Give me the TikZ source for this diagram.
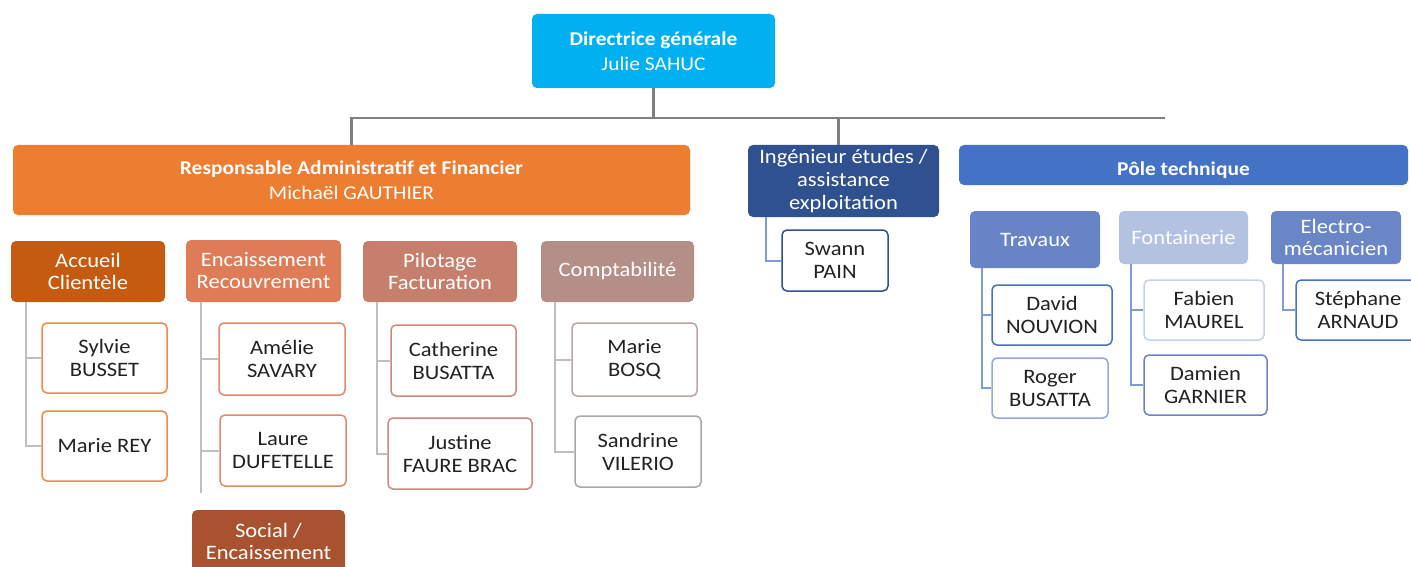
\documentclass[tikz,border=0pt]{standalone}
\usepackage{fontspec}
\setmainfont{Carlito}[FakeStretch=1.1]
\definecolor{cDG}{HTML}{00B0F0}
\definecolor{cRAF}{HTML}{ED7D31}
\definecolor{cACC}{HTML}{C55A11}
\definecolor{cENC}{HTML}{DE7C57}
\definecolor{cPIL}{HTML}{C67F6C}
\definecolor{cCOMP}{HTML}{B48F88}
\definecolor{cSOC}{HTML}{A9522F}
\definecolor{cING}{HTML}{2F5190}
\definecolor{cPOLE}{HTML}{4472C4}
\definecolor{cTRAV}{HTML}{6884C7}
\definecolor{cFONT}{HTML}{B4C2E2}
\definecolor{cELEC}{HTML}{6A86C6}
\definecolor{bACC}{HTML}{EE8A4A}
\definecolor{bENC}{HTML}{DF8A6A}
\definecolor{bPIL}{HTML}{CC8A7A}
\definecolor{bBOSQ}{HTML}{BFA3A0}
\definecolor{bSAND}{HTML}{A8A8A8}
\definecolor{bROG}{HTML}{8FAADC}
\definecolor{bFAB}{HTML}{C5D2EC}
\definecolor{lGray}{HTML}{BFBFBF}
\definecolor{lTop}{HTML}{7F7F7F}
\definecolor{lBlue}{HTML}{7F9BD3}
\definecolor{tDark}{HTML}{222222}
\tikzset{
  headbox/.style={rounded corners=5pt, draw=none, text=white, align=center, inner sep=0pt,
    font=\fontsize{20.5}{22}\selectfont},
  personbox/.style={rounded corners=5pt, fill=white, line width=1.5pt, align=center, text=tDark,
    inner sep=0pt, font=\fontsize{20.5}{23}\selectfont},
  topconn/.style={draw=lTop, line width=2.5pt},
  grayconn/.style={draw=lGray, line width=2pt},
  blueconn/.style={draw=lBlue, line width=2pt},
}
\begin{document}
\begin{tikzpicture}[x=1pt,y=-1pt]
\clip (0,0) rectangle (1411,567);
\fill[white] (0,0) rectangle (1411,567);

% top level
\node[headbox, fill=cDG, minimum width=243pt, minimum height=74pt, font=\fontsize{19.5}{25}\selectfont] (dg) at (653.5,51)
  {\textbf{Directrice générale}\\Julie SAHUC};
\node[headbox, fill=cRAF, minimum width=677pt, minimum height=70pt, font=\fontsize{19.5}{25}\selectfont] (raf) at (351.5,180)
  {\textbf{Responsable Administratif et Financier}\\Michaël GAUTHIER};
\node[headbox, fill=cING, minimum width=191pt, minimum height=72pt, font=\fontsize{20.5}{23}\selectfont] (ing) at (843.5,181)
  {Ingénieur études /\\assistance\\exploitation};
\node[headbox, fill=cPOLE, minimum width=449pt, minimum height=40pt, font=\fontsize{19.5}{22}\selectfont\bfseries] (pole) at (1183.5,165)
  {\raisebox{-10pt}[0pt][0pt]{Pôle technique}};

\coordinate (hl) at (0,118);
\coordinate (hr) at (1165,118);
\draw[topconn] (dg.south) -- (dg.south |- hl);
\draw[topconn] (raf.north) -- (raf.north |- hl) -- (hr);
\draw[topconn] ([xshift=-5pt]ing.north) -- ([xshift=-5pt]ing.north |- hl);

% ingenieur
\node[personbox, draw=cING, minimum width=106pt, minimum height=61pt] (swann) at (835,260.5) {Swann\\PAIN};
\draw[blueconn] ([xshift=18pt]ing.south west) |- (swann.west);

% pole technique
\node[headbox, fill=cTRAV, minimum width=130pt, minimum height=57pt] (trav) at (1035,239.5) {Travaux};
\node[personbox, draw=cPOLE, minimum width=120pt, minimum height=60pt] (david) at (1052,315) {David\\NOUVION};
\node[personbox, draw=bROG, minimum width=116pt, minimum height=60pt] (roger) at (1050,388) {Roger\\BUSATTA};
\draw[blueconn] ([xshift=12pt]trav.south west) |- (david.west);
\draw[blueconn] ([xshift=12pt]trav.south west) |- (roger.west);

\node[headbox, fill=cFONT, minimum width=129pt, minimum height=53pt] (font) at (1183.5,237.5) {Fontainerie};
\node[personbox, draw=bFAB, minimum width=120pt, minimum height=60pt] (fabien) at (1204,310) {Fabien\\MAUREL};
\node[personbox, draw=cTRAV, minimum width=123pt, minimum height=60pt] (damien) at (1205.5,385) {Damien\\GARNIER};
\draw[blueconn] ([xshift=12pt]font.south west) |- (fabien.west);
\draw[blueconn] ([xshift=12pt]font.south west) |- (damien.west);

\node[headbox, fill=cELEC, minimum width=130pt, minimum height=53pt] (elec) at (1336,237.5) {Electro-\\mécanicien};
\node[personbox, draw=cPOLE, minimum width=124pt, minimum height=60pt] (steph) at (1358,310) {Stéphane\\ARNAUD};
\draw[blueconn] ([xshift=12pt]elec.south west) |- (steph.west);

% administratif
\node[headbox, fill=cACC, minimum width=154pt, minimum height=61pt] (acc) at (88,271.5) {Accueil\\Clientèle};
\node[personbox, draw=bACC, minimum width=125pt, minimum height=70pt] (sylvie) at (104.5,358) {Sylvie\\BUSSET};
\node[personbox, draw=bACC, minimum width=125pt, minimum height=70pt] (mrey) at (104.5,446) {Marie REY};
\draw[grayconn] ([xshift=15pt]acc.south west) |- (sylvie.west);
\draw[grayconn] ([xshift=15pt]acc.south west) |- (mrey.west);

\node[headbox, fill=cENC, minimum width=155pt, minimum height=62pt] (enc) at (263.5,271) {Encaissement\\Recouvrement};
\node[personbox, draw=bENC, minimum width=126pt, minimum height=72pt] (amelie) at (282,359) {Amélie\\SAVARY};
\node[personbox, draw=bENC, minimum width=126pt, minimum height=71pt] (laure) at (283,450.5) {Laure\\DUFETELLE};
\coordinate (encend) at (201,493);
\draw[grayconn] ([xshift=15pt]enc.south west) |- (amelie.west);
\draw[grayconn] ([xshift=15pt]enc.south west) |- (laure.west);
\draw[grayconn] ([xshift=15pt]enc.south west) -- ([xshift=15pt]enc.south west |- encend);
\node[headbox, fill=cSOC, minimum width=153pt, minimum height=62pt] (soc) at (268.5,541) {Social /\\Encaissement};

\node[headbox, fill=cPIL, minimum width=154pt, minimum height=61pt] (pil) at (440,271.5) {Pilotage\\Facturation};
\node[personbox, draw=bPIL, minimum width=125pt, minimum height=71pt] (cath) at (453.5,360.5) {Catherine\\BUSATTA};
\node[personbox, draw=bPIL, minimum width=144pt, minimum height=71pt] (just) at (460,453.5) {Justine\\FAURE BRAC};
\draw[grayconn] ([xshift=14pt]pil.south west) |- (cath.west);
\draw[grayconn] ([xshift=14pt]pil.south west) |- (just.west);

\node[headbox, fill=cCOMP, minimum width=153pt, minimum height=61pt] (comp) at (617.5,271.5) {Comptabilité};
\node[personbox, draw=bBOSQ, minimum width=125pt, minimum height=73pt] (bosq) at (634.5,359.5) {Marie\\BOSQ};
\node[personbox, draw=bSAND, minimum width=126pt, minimum height=71pt] (sand) at (638,451.5) {Sandrine\\VILERIO};
\draw[grayconn] ([xshift=14pt]comp.south west) |- (bosq.west);
\draw[grayconn] ([xshift=14pt]comp.south west) |- (sand.west);
\end{tikzpicture}
\end{document}
